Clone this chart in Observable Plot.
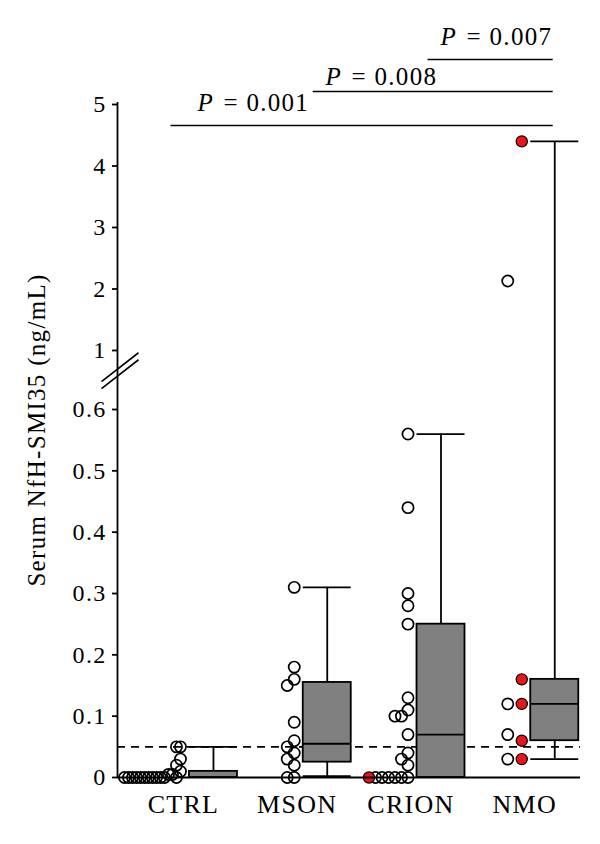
<!DOCTYPE html>
<html>
<head>
<meta charset="utf-8">
<script src="https://cdn.jsdelivr.net/npm/d3@7"></script>
<script src="https://cdn.jsdelivr.net/npm/@observablehq/plot@0.6"></script>
<style>
  html, body { margin: 0; padding: 0; background: #fff; }
  #chart svg { display: block; }
</style>
</head>
<body>
<div id="chart"></div>
<script>
// ---------- data ----------
const groups = ["CTRL", "MSON", "CRION", "NMO"];

// individual values (open circles / red-filled circles)
const ctrlOpen  = [0,0,0,0,0,0,0,0,0,0,0,0,0.005,0.005,0.01,0.02,0.03,0.05,0.05];
const ctrlRed   = [];
const msonOpen  = [0,0,0.02,0.03,0.04,0.05,0.06,0.09,0.15,0.16,0.18,0.31];
const msonRed   = [];
const crionOpen = [0,0,0,0,0,0,0.02,0.03,0.04,0.07,0.10,0.10,0.11,0.13,0.25,0.28,0.30,0.44,0.56];
const crionRed  = [0];
const nmoOpen   = [2.13,0.12,0.07,0.03];
const nmoRed    = [4.4,0.16,0.12,0.06,0.03];

// box summaries (min–max whiskers)
const whiskerLow  = [0,    0.002, 0,    0.03];
const q1          = [0,    0.025, 0,    0.06];
const median      = [0,    0.055, 0.07, 0.12];
const q3          = [0.01, 0.155, 0.25, 0.16];
const whiskerHigh = [0.05, 0.31,  0.56, 4.4];

const cutoff = 0.05;
const yTicks = [0, 0.1, 0.2, 0.3, 0.4, 0.5, 0.6, 1, 2, 3, 4, 5];

// significance brackets
const pValues      = ["0.001", "0.008", "0.007"];
const bracketStart = [-0.11, 1.14, 2.15];
const bracketEnd   = [3.25, 3.25, 3.25];
const bracketLevel = [4.66, 5.21, 5.73];
const pLabelX      = [0.123, 1.249, 2.26];
const pLabelY      = [5.02, 5.44, 6.09];

// ---------- layout / style ----------
const W = 600, H = 844;
const mL = 117, mR = 20, mT = 102, mB = 67;
const xDomain = [-0.58, 3.49];
const yDomain = [0, 0.6, 1, 5];          // broken axis: piecewise linear scale
const yRange  = [777, 409, 350, 104];
const xS = d3.scaleLinear(xDomain, [mL, W - mR]);
const yS = d3.scaleLinear().domain(yDomain).range(yRange);

const serif = "'Liberation Serif', 'Times New Roman', serif";
const red = "#e8161b";
const gray = "#808080";
const lw = 1.8;
const dotR = 5.6;
const boxOffsetPx = 30, boxHalfPx = 24;
const dotAnchorPx = -3;
const dotStep = {CTRL: 4.0, MSON: 7, CRION: 6.5, NMO: 14};
const splitColumns = {NMO: true};
const collidePx = 10;

// ---------- dot layout (simple column beeswarm, highest values placed first) ----------
const groupData = {
  CTRL:  {open: ctrlOpen,  red: ctrlRed},
  MSON:  {open: msonOpen,  red: msonRed},
  CRION: {open: crionOpen, red: crionRed},
  NMO:   {open: nmoOpen,   red: nmoRed}
};
const dots = [];
groups.forEach((g, i) => {
  const {open, red: reds} = groupData[g];
  const openItems = open.map(v => ({v, red: false})).sort((a, b) => b.v - a.v);
  const redItems = reds.map(v => ({v, red: true})).sort((a, b) => b.v - a.v);
  const items = splitColumns[g] ? redItems.concat(openItems) : openItems.concat(redItems);
  const placed = [];
  for (const it of items) {
    const py = yS(it.v);
    let k = splitColumns[g] ? (it.red ? 0 : 1) : 0;
    if (!splitColumns[g]) {
      while (placed.some(p => p.slot === k && Math.abs(p.py - py) < collidePx)) k++;
    }
    placed.push({...it, py, slot: k});
  }
  for (const p of placed) {
    dots.push({group: g, v: p.v, red: p.red,
      x: xS.invert(xS(i) + dotAnchorPx - p.slot * dotStep[g])});
  }
});

const boxes = groups.map((g, i) => ({
  g,
  lo: whiskerLow[i], q1: q1[i], med: median[i], q3: q3[i], hi: whiskerHigh[i],
  xc: xS.invert(xS(i) + boxOffsetPx),
  xa: xS.invert(xS(i) + boxOffsetPx - boxHalfPx),
  xb: xS.invert(xS(i) + boxOffsetPx + boxHalfPx)
}));

const brackets = pValues.map((p, i) => ({
  p, x1: bracketStart[i], x2: bracketEnd[i], y: bracketLevel[i],
  lx: pLabelX[i], ly: pLabelY[i]
}));

// axis break marks (two parallel slashes across the y axis, between 0.6 and 1)
const yBreak = 0.85, breakGap = 7, breakSlope = 0.78;
const breakLines = [-breakGap / 2, breakGap / 2].map(off => {
  const cy = yS(yBreak) + off;
  return {
    x1: xS.invert(mL - 16), y1: yS.invert(cy + 16 * breakSlope),
    x2: xS.invert(mL + 21), y2: yS.invert(cy - 21 * breakSlope)
  };
});

const chart = Plot.plot({
  width: W, height: H,
  marginLeft: mL, marginRight: mR, marginTop: mT, marginBottom: mB,
  x: {type: "linear", domain: xDomain, range: [mL, W - mR]},
  y: {type: "linear", domain: yDomain, range: yRange},
  style: {fontFamily: serif, background: "white", color: "black", letterSpacing: "1.3px", overflow: "visible"},
  marks: [
    // cutoff dashed line
    Plot.ruleY([cutoff], {stroke: "black", strokeWidth: 1.6, strokeDasharray: "8,6"}),
    // whiskers and caps
    Plot.ruleX(boxes, {x: "xc", y1: "lo", y2: "hi", stroke: "black", strokeWidth: lw}),
    Plot.ruleY(boxes, {y: "hi", x1: "xa", x2: "xb", stroke: "black", strokeWidth: lw}),
    Plot.ruleY(boxes.filter(d => d.lo > 0), {y: "lo", x1: "xa", x2: "xb", stroke: "black", strokeWidth: lw}),
    // boxes
    Plot.rect(boxes, {x1: "xa", x2: "xb", y1: "q1", y2: "q3", fill: gray, stroke: "black", strokeWidth: lw}),
    Plot.ruleY(boxes.filter(d => d.med > 0), {y: "med", x1: "xa", x2: "xb", stroke: "black", strokeWidth: lw}),
    // individual values
    Plot.dot(dots.filter(d => !d.red), {x: "x", y: "v", r: dotR, fill: "none", stroke: "black", strokeWidth: 1.7}),
    Plot.dot(dots.filter(d => d.red), {x: "x", y: "v", r: dotR, fill: red, stroke: "black", strokeWidth: 1.2}),
    // axes
    Plot.axisY(yTicks, {tickSize: 5, tickPadding: 6, fontSize: 24, strokeWidth: lw, label: null, tickFormat: d => String(d)}),
    Plot.axisX([0, 1, 2, 3], {tickSize: 0, tickPadding: 17, fontSize: 26, label: null, tickFormat: i => groups[i]}),
    Plot.ruleX([xDomain[0]], {stroke: "black", strokeWidth: lw}),
    Plot.ruleY([0], {stroke: "black", strokeWidth: lw}),
    Plot.link(breakLines, {x1: "x1", y1: "y1", x2: "x2", y2: "y2", stroke: "black", strokeWidth: 1.6}),
    // brackets + P values
    Plot.ruleY(brackets, {y: "y", x1: "x1", x2: "x2", stroke: "black", strokeWidth: 1.5}),
    Plot.text(brackets, {x: "lx", y: "ly", text: () => "P", fontStyle: "italic", textAnchor: "start", fontSize: 25}),
    Plot.text(brackets, {x: "lx", y: "ly", text: d => "= " + d.p, textAnchor: "start", fontSize: 25, dx: 26}),
    // y axis title
    Plot.text(["Serum NfH-SMI35 (ng/mL)"], {frameAnchor: "left", textAnchor: "middle", rotate: -90, dx: -81, dy: -10, fontSize: 25, ariaLabel: "y-title"})
  ]
});

d3.select(chart).selectAll('g[aria-label="y-title"] text').style("letter-spacing", "2.6px");
document.getElementById("chart").appendChild(chart);
</script>
</body>
</html>
